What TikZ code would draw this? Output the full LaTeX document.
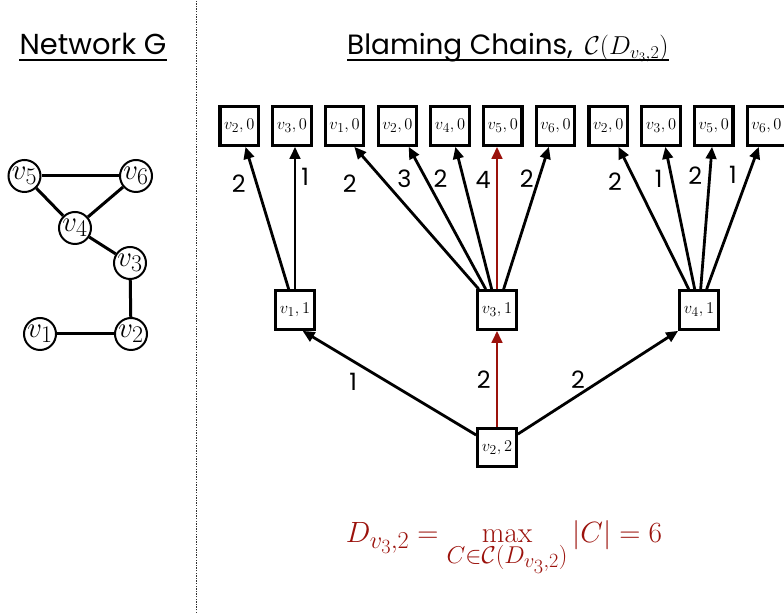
\RequirePackage{fix-cm}
\documentclass[tikz,border=0pt]{standalone}
\usepackage{fontspec}
\newfontfamily\keyfont{Poppins}
\usetikzlibrary{arrows.meta}
\definecolor{chainred}{RGB}{155,18,12}
\DeclareMathSizes{29.4}{29.4}{24.4}{20.3}
\DeclareMathSizes{29}{29}{24}{20}
\DeclareMathSizes{26}{26}{18.2}{13}
\DeclareMathSizes{16.5}{16.5}{13.7}{11.4}

\begin{document}
\begin{tikzpicture}[x=1bp, y=1bp,
		vtx/.style={circle, draw, line width=2bp, minimum size=32bp, inner sep=0pt, font=\fontsize{29}{29}\selectfont},
		gedge/.style={line width=3bp},
		chainbox/.style={draw, line width=3.2bp, minimum size=38.5bp, inner sep=0pt, fill=white, font=\fontsize{16.5}{16.5}\selectfont},
		chain/.style={line width=2.8bp, -{Triangle[length=12bp, width=10.5bp]}},
		elab/.style={font=\keyfont\fontsize{24}{24}\selectfont, inner sep=5bp, auto},
		heading/.style={font=\keyfont\fontsize{29}{29}\selectfont, inner sep=0pt},
		uline/.style={line width=1.8bp}]
			%%%%% START %%%%%
			\useasboundingbox (0, 0) rectangle (784, 613);
			
			\draw[line width=1bp, color=black!80, dash pattern=on 1.3bp off 1.3bp] (196, 0) -- (196, 613);
			
			% headings
			\node[heading, anchor=base] (tnet) at (93, 558) {Network G};
			\draw[uline] ([yshift=-5bp]tnet.base west) -- ([yshift=-5bp]tnet.base east);
			\node[heading, anchor=base west, font=\keyfont\fontsize{28}{28}\selectfont] (tchain) at (347, 558)
				{Blaming Chains,\hspace{12bp}\fontsize{26}{26}\selectfont$\mathcal{C}(D_{v_3,2})$};
			\draw[uline] ([yshift=-5bp]tchain.base west) -- ([yshift=-5bp]tchain.base east);
			
			% network G
			\node[vtx] (v5) at (24.5, 437) {$v_5$};
			\node[vtx] (v6) at (136, 437) {$v_6$};
			\node[vtx] (v4) at (75, 385) {$v_4$};
			\node[vtx] (v3) at (130, 350) {$v_3$};
			\node[vtx] (v1) at (40, 279) {$v_1$};
			\node[vtx] (v2) at (131, 279) {$v_2$};
			\draw[gedge] (v5) -- (v6);
			\draw[gedge] (v5) -- (v4);
			\draw[gedge] (v6) -- (v4);
			\draw[gedge] (v4) -- (v3);
			\draw[gedge] (v3) -- (v2);
			\draw[gedge] (v1) -- (v2);
			
			% chains, level 0
			\node[chainbox] (t1) at (239.2, 487) {$v_2,0$};
			\node[chainbox] (t2) at (291.9, 487) {$v_3,0$};
			\node[chainbox] (t3) at (344.6, 487) {$v_1,0$};
			\node[chainbox] (t4) at (397.4, 487) {$v_2,0$};
			\node[chainbox] (t5) at (450.1, 487) {$v_4,0$};
			\node[chainbox] (t6) at (502.8, 487) {$v_5,0$};
			\node[chainbox] (t7) at (555.5, 487) {$v_6,0$};
			\node[chainbox] (t8) at (608.2, 487) {$v_2,0$};
			\node[chainbox] (t9) at (661, 487) {$v_3,0$};
			\node[chainbox] (t10) at (713.7, 487) {$v_5,0$};
			\node[chainbox] (t11) at (766.4, 487) {$v_6,0$};
			
			% level 1
			\node[chainbox] (m1) at (295, 303) {$v_1,1$};
			\node[chainbox] (m3) at (497, 303) {$v_3,1$};
			\node[chainbox] (m4) at (699, 303) {$v_4,1$};
			
			% level 2
			\node[chainbox] (root) at (497, 165.5) {$v_2,2$};
			
			\draw[chain] (m1) -- node[elab, pos=0.85] {2} (t1);
			\draw[chain] (m1) -- node[elab, pos=0.79, swap] {1} (m1 |- t2.south);
			
			\draw[chain] (m3) -- node[elab, pos=0.85, xshift=-10bp] {2} (t3.-65);
			\draw[chain] (m3) -- node[elab, pos=0.88] {3} (t4);
			\draw[chain] (m3) -- node[elab, pos=0.88, xshift=-6bp] {2} (t5);
			\draw[chain, color=chainred] (m3) -- node[elab, pos=0.77, text=black] {4} (m3 |- t6.south);
			\draw[chain] (m3) -- node[elab, pos=0.67, xshift=6bp] {2} (t7);
			
			\draw[chain] (m4) -- node[elab, pos=0.86] {2} (t8);
			\draw[chain] (m4) -- node[elab, pos=0.88] {1} (t9);
			\draw[chain] (m4) -- node[elab, pos=0.69] {2} (t10);
			\draw[chain] (m4) -- node[elab, pos=0.70] {1} (t11);
			
			\draw[chain] (root) -- node[elab, pos=0.65] {1} (m1.290);
			\draw[chain, color=chainred] (root) -- node[elab, pos=0.49, text=black] {2} (m3);
			\draw[chain] (root) -- node[elab, pos=0.44, xshift=3bp, yshift=-6bp] {2} (m4.south west);
			
			\node[anchor=base, text=chainred, inner sep=0pt, font=\fontsize{29.4}{30}\selectfont] (dmax) at (504, 70)
				{$\displaystyle D_{v_3,2} = \max_{C\in\mathcal{C}(D_{v_3,2})} |C| = 6$};
			%%%%% END %%%%%
		\end{tikzpicture}
\end{document}
